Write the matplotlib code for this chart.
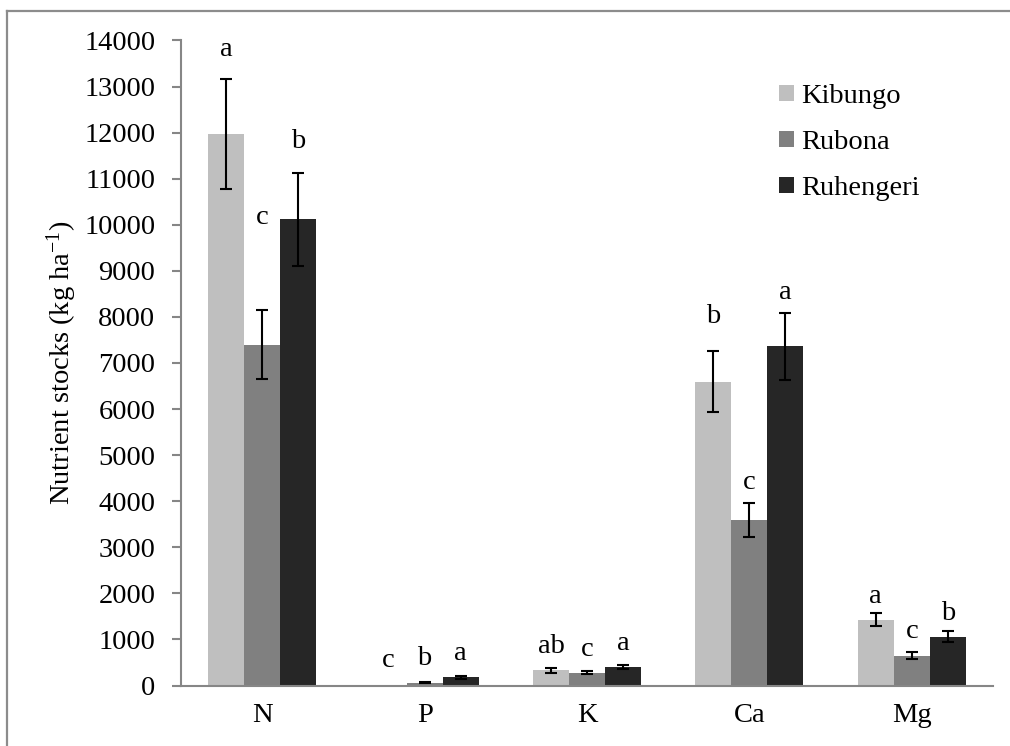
import matplotlib
matplotlib.use("Agg")
import matplotlib.pyplot as plt
import numpy as np
from matplotlib.lines import Line2D

categories = ["N", "P", "K", "Ca", "Mg"]
sites = ["Kibungo", "Rubona", "Ruhengeri"]
kibungo = [11970, 10, 330, 6590, 1430]
rubona = [7400, 60, 280, 3600, 650]
ruhengeri = [10120, 180, 400, 7360, 1060]
kibungo_err = [1200, 0, 50, 660, 140]
rubona_err = [750, 15, 40, 370, 80]
ruhengeri_err = [1010, 30, 50, 730, 120]
kibungo_letters = ["a", "c", "ab", "b", "a"]
rubona_letters = ["c", "b", "c", "c", "c"]
ruhengeri_letters = ["b", "a", "a", "a", "b"]
kibungo_label_y = [13660, 400, 716, 7868, 1791]
rubona_label_y = [10010, 445, 640, 4265, 1031]
ruhengeri_label_y = [11667, 553, 770, 8390, 1422]
yticks = list(range(0, 14001, 1000))

plt.rcParams["font.family"] = ["Liberation Serif", "DejaVu Serif"]
plt.rcParams["mathtext.fontset"] = "custom"
plt.rcParams["mathtext.rm"] = "Liberation Serif"
plt.rcParams["mathtext.it"] = "Liberation Serif:italic"

FS = 20.5
fig = plt.figure(figsize=(10.10, 7.46), dpi=100)
ax = fig.add_axes([181/1010, 1-685.5/746, (993-181)/1010, (685.5-40.5)/746])

colors = ["#bfbfbf", "#808080", "#262626"]
vals = [kibungo, rubona, ruhengeri]
errs = [kibungo_err, rubona_err, ruhengeri_err]
letters = [kibungo_letters, rubona_letters, ruhengeri_letters]
label_ys = [kibungo_label_y, rubona_label_y, ruhengeri_label_y]
x = np.arange(len(categories))
w = 36/162.4
for i in range(3):
    pos = x + (i-1)*w
    ax.bar(pos, vals[i], width=w, color=colors[i], label=sites[i], zorder=2)
    e = np.array(errs[i], dtype=float)
    mask = e > 0
    ax.errorbar(pos[mask], np.array(vals[i])[mask], yerr=e[mask], fmt="none",
                ecolor="black", elinewidth=1.5, capsize=4.4, capthick=1.5, zorder=3)
    for j in range(len(categories)):
        ax.text(pos[j], label_ys[i][j], letters[i][j], ha="center", va="baseline",
                fontsize=FS, color="black")

ax.set_xlim(-0.5, 4.5)
ax.set_ylim(0, 14000)
ax.set_yticks(yticks)
ax.set_yticklabels([str(t) for t in yticks])
ax.set_xticks(x)
ax.set_xticklabels(categories)
for s in ["top", "right"]:
    ax.spines[s].set_visible(False)
for s in ["left", "bottom"]:
    ax.spines[s].set_color("#868686")
    ax.spines[s].set_linewidth(1.5)
ax.tick_params(axis="y", direction="out", length=6.5, width=1.5, color="#868686",
               labelsize=FS, pad=12)
ax.tick_params(axis="x", length=0, labelsize=FS, pad=12.5)
ax.set_ylabel("Nutrient stocks (kg ha$^{\\mathregular{-1}}$)", fontsize=FS, labelpad=4)

leg = ax.legend(loc="upper left", bbox_to_anchor=(779/1010, 1-84/746),
                bbox_transform=fig.transFigure, frameon=False, fontsize=FS,
                handlelength=0.52, handleheight=0.52, handletextpad=0.25,
                labelspacing=0.74, borderpad=0, borderaxespad=0)

fig.add_artist(Line2D([7/1010, 1], [1-11/746, 1-11/746], transform=fig.transFigure,
                      color="#8c8c8c", lw=1.6))
fig.add_artist(Line2D([7/1010, 7/1010], [0, 1-11/746], transform=fig.transFigure,
                      color="#8c8c8c", lw=1.6))

fig.savefig("out.png", dpi=100, facecolor="white")
